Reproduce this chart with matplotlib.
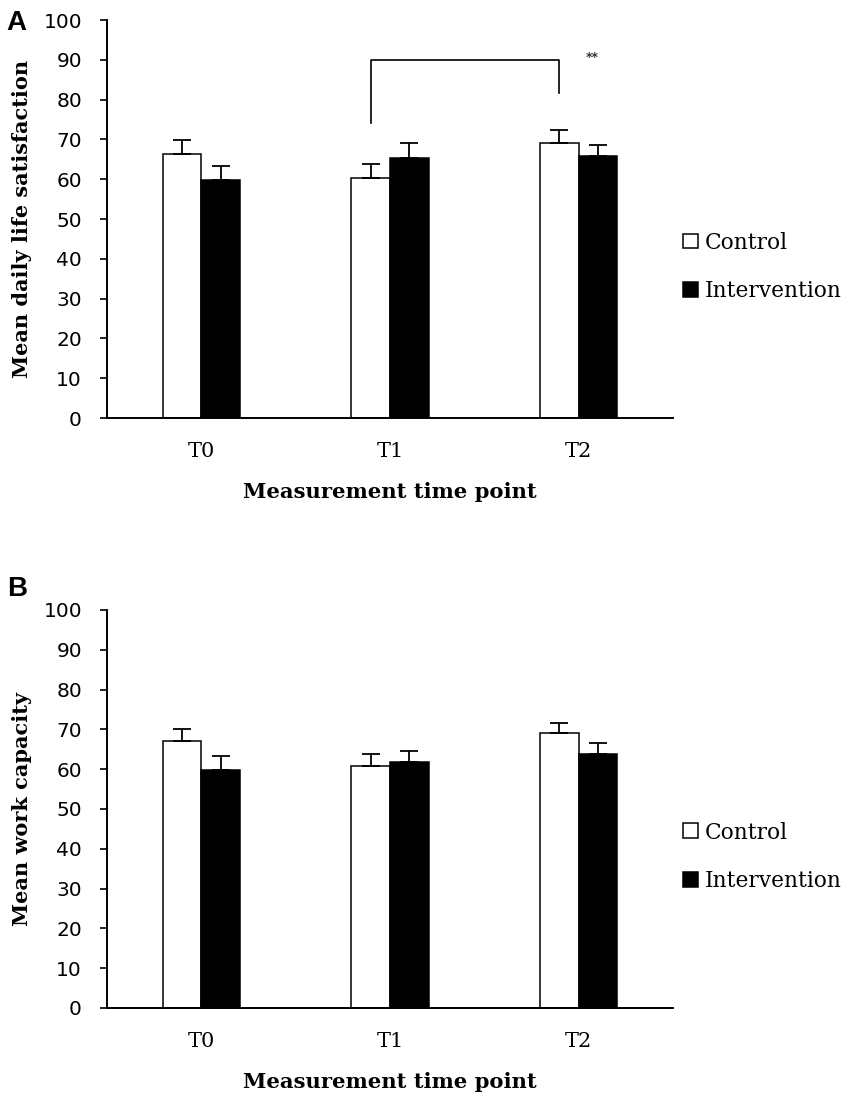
import matplotlib
matplotlib.use("Agg")
import matplotlib.pyplot as plt
import numpy as np

# Data
timepoints = ["T0", "T1", "T2"]
groups = ["Control", "Intervention"]

a_control = [66.3, 60.3, 69.2]
a_control_err = [3.5, 3.5, 3.1]
a_interv = [59.8, 65.4, 65.9]
a_interv_err = [3.5, 3.7, 2.8]

b_control = [67.2, 60.7, 69.1]
b_control_err = [2.9, 3.0, 2.4]
b_interv = [59.8, 61.8, 63.8]
b_interv_err = [3.5, 2.8, 2.8]

# significance bracket (panel A): left leg, top, right leg
bracket_y = [74.1, 90.0, 90.0, 81.6]
bracket_label = "**"

SERIF = "DejaVu Serif"
SANS = "DejaVu Sans"


def draw_panel(ax, control, control_err, interv, interv_err, ylabel):
    x = np.arange(len(timepoints))
    w = 0.205
    ax.bar(x - w / 2, control, w, color="white", edgecolor="black",
           linewidth=1.1, label=groups[0], zorder=2)
    ax.bar(x + w / 2, interv, w, color="black", edgecolor="black",
           linewidth=1.1, label=groups[1], zorder=2)
    ax.errorbar(x - w / 2, control, yerr=[np.zeros(3), control_err],
                fmt="none", ecolor="black", elinewidth=1.3, capsize=6.5,
                capthick=1.3, zorder=3)
    ax.errorbar(x + w / 2, interv, yerr=[np.zeros(3), interv_err],
                fmt="none", ecolor="black", elinewidth=1.3, capsize=6.5,
                capthick=1.3, zorder=1)

    ax.set_xlim(-0.5, 2.5)
    ax.set_ylim(0, 100)
    ax.set_yticks(range(0, 101, 10))
    ax.set_xticks(x)
    ax.set_xticklabels(timepoints, fontfamily=SERIF, fontsize=15)
    for t in ax.get_yticklabels():
        t.set_fontfamily(SANS)
        t.set_fontsize(14.5)
    ax.tick_params(axis="x", length=0, pad=17)
    ax.tick_params(axis="y", direction="out", length=5, width=1.2, pad=13)

    for s in ["top", "right"]:
        ax.spines[s].set_visible(False)
    ax.spines["left"].set_linewidth(1.4)
    ax.spines["bottom"].set_linewidth(1.4)

    ax.set_ylabel(ylabel, fontfamily=SERIF, fontweight="bold", fontsize=15)
    ax.yaxis.set_label_coords(-0.1325, 0.5)
    ax.set_xlabel("Measurement time point", fontfamily=SERIF,
                  fontweight="bold", fontsize=15.2)
    ax.xaxis.set_label_coords(0.5, -0.186)
    ax.xaxis.label.set_va("center")

    ax.legend(loc="center left", bbox_to_anchor=(1.018, 0.38),
              frameon=False, borderpad=0, borderaxespad=0,
              handlelength=0.68, handleheight=0.68, handletextpad=0.3,
              labelspacing=1.22, prop={"family": SERIF, "size": 15.6})
    return x, w


fig = plt.figure(figsize=(8.51, 11.05), dpi=100)
ax_a = fig.add_axes([0.1257, 0.6217, 0.6651, 0.3602])
ax_b = fig.add_axes([0.1257, 0.0878, 0.6651, 0.3602])

x, w = draw_panel(ax_a, a_control, a_control_err, a_interv, a_interv_err,
                  "Mean daily life satisfaction")
draw_panel(ax_b, b_control, b_control_err, b_interv, b_interv_err,
           "Mean work capacity")

# bracket between T1 and T2 control bars
bx = [x[1] - w / 2, x[1] - w / 2, x[2] - w / 2, x[2] - w / 2]
ax_a.plot(bx, bracket_y, color="black", linewidth=1.2, zorder=4)
ax_a.text(x[2] + 0.074, bracket_y[1] + 0.6, bracket_label, ha="center",
          va="center", fontsize=9, fontweight="bold", color="#333333")

fig.text(0.008, 0.979, "A", fontfamily="Liberation Sans", fontweight="bold",
         fontsize=20, va="center", ha="left")
fig.text(0.008, 0.467, "B", fontfamily="Liberation Sans", fontweight="bold",
         fontsize=20, va="center", ha="left")

fig.savefig("out.png", dpi=100)
